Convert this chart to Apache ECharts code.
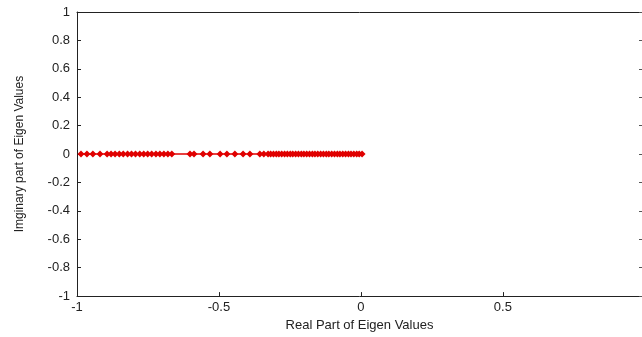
<!DOCTYPE html>
<html>
<head>
<meta charset="utf-8">
<script src="https://cdn.jsdelivr.net/npm/echarts@6/dist/echarts.min.js"></script>
<style>
html,body{margin:0;padding:0;background:#fff;}
#chart{width:642px;height:337px;}
</style>
</head>
<body>
<div id="chart"></div>
<script>
// Real parts of eigenvalues (imaginary parts all zero)
const realParts = [
  -0.986, -0.965, -0.944, -0.919,
  -0.894, -0.880, -0.866, -0.851, -0.837, -0.822, -0.808, -0.794, -0.779, -0.765,
  -0.751, -0.737, -0.722, -0.708, -0.694, -0.680, -0.666,
  -0.602, -0.588, -0.556, -0.532, -0.496, -0.472, -0.444, -0.415, -0.391,
  -0.356, -0.342, -0.327,
  -0.318, -0.308, -0.298, -0.289, -0.279, -0.269, -0.259, -0.249, -0.240, -0.230,
  -0.220, -0.210, -0.201, -0.191, -0.181, -0.171, -0.162, -0.152, -0.142, -0.132,
  -0.122, -0.113, -0.103, -0.093, -0.083, -0.074, -0.064, -0.054, -0.044, -0.035,
  -0.025, -0.015, -0.006, 0.004
];
const imagParts = realParts.map(() => 0);
const xTicks = [-1, -0.5, 0, 0.5];
const yTicks = [-1, -0.8, -0.6, -0.4, -0.2, 0, 0.2, 0.4, 0.6, 0.8, 1];

const points = realParts.map((r, i) => [r, imagParts[i]]);
const fmt = v => String(Math.round(v * 10) / 10);

const chart = echarts.init(document.getElementById('chart'), null, {renderer: 'canvas'});
const textStyle = {color: '#222', fontFamily: 'Liberation Sans, Arial, sans-serif', fontSize: 13};
chart.setOption({
  animation: false,
  backgroundColor: '#ffffff',
  grid: {left: 77, right: 0, top: 12, bottom: 39, show: false},
  xAxis: [{
    type: 'value', min: -1, max: 0.99, interval: 0.5,
    name: 'Real Part of Eigen Values', nameLocation: 'middle', nameGap: 22,
    nameTextStyle: textStyle,
    axisLine: {show: true, onZero: false, lineStyle: {color: '#222', width: 1}},
    axisTick: {show: true, inside: true, length: 4, lineStyle: {color: '#222'}},
    axisLabel: Object.assign({margin: 5, showMaxLabel: false, formatter: v => xTicks.includes(v) ? fmt(v) : ''}, textStyle),
    splitLine: {show: false}
  }, {
    type: 'value', min: -1, max: 0.99, interval: 0.5, position: 'top',
    axisLine: {show: true, onZero: false, lineStyle: {color: '#222', width: 1}},
    axisTick: {show: false},
    axisLabel: {show: false},
    splitLine: {show: false}
  }],
  yAxis: [{
    type: 'value', min: -1, max: 1, interval: 0.2,
    name: 'Imginary part of Eigen Values', nameLocation: 'middle', nameGap: 51,
    nameTextStyle: Object.assign({}, textStyle, {fontSize: 12, fontFamily: 'Liberation Sans Narrow, Liberation Sans, Arial, sans-serif'}),
    axisLine: {show: true, onZero: false, lineStyle: {color: '#222', width: 1}},
    axisTick: {show: true, inside: true, length: 4, lineStyle: {color: '#222'}},
    axisLabel: Object.assign({margin: 7, formatter: v => fmt(v)}, textStyle),
    splitLine: {show: false}
  }, {
    type: 'value', min: -1, max: 1, interval: 0.2, position: 'right',
    axisLine: {show: false, onZero: false},
    axisTick: {show: true, inside: true, length: 3, lineStyle: {color: '#555'}},
    axisLabel: {show: false},
    splitLine: {show: false}
  }],
  series: [{
    type: 'line',
    data: points,
    symbol: 'diamond',
    symbolSize: 7,
    lineStyle: {color: '#e00000', width: 1.5},
    itemStyle: {color: '#e00000'},
    z: 3
  }]
});
</script>
</body>
</html>
